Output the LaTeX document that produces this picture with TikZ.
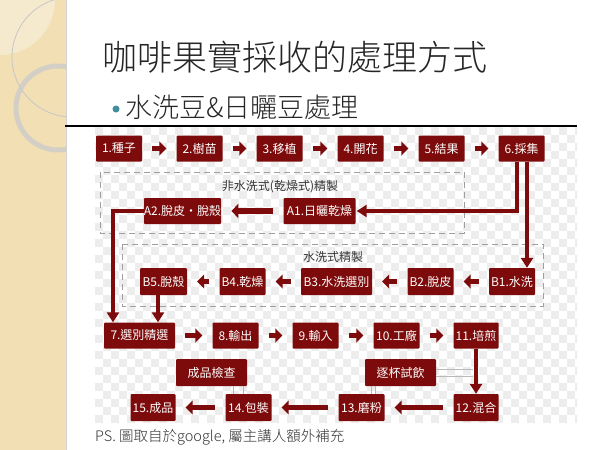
\documentclass[tikz,border=0pt]{standalone}
\usepackage{fontspec}
\setmainfont{Noto Sans CJK TC}
\newfontfamily\cjklight{Noto Sans CJK TC Light}
\usetikzlibrary{arrows.meta,calc}
\definecolor{boxred}{HTML}{7D0B0B}
\definecolor{stripbg}{HTML}{F2DFB4}
\definecolor{bulletc}{HTML}{3E8E9E}
\definecolor{titlec}{HTML}{262626}
\tikzset{
  box/.style={fill=boxred, text=white, inner sep=0pt, minimum height=26pt,
    font=\fontsize{12}{14}\selectfont, rounded corners=1pt},
  blk/.style={boxred, line width=5.5pt, -{Triangle[length=7pt,width=14pt]},
    shorten <=10pt, shorten >=10pt},
  conn/.style={boxred, line width=4pt, -{Triangle[length=10pt,width=12pt]}},
  dashbox/.style={draw=gray!75, line width=1pt, dash pattern=on 6pt off 4pt},
  thin/.style={draw=gray!55, line width=0.6pt},
  lbl/.style={text=black!80, font=\fontsize{12}{14}\selectfont, inner sep=0pt}
}
\begin{document}
\begin{tikzpicture}[x=1pt,y=-1pt]
\useasboundingbox (0,0) rectangle (600,450);
\fill[white] (0,0) rectangle (600,450);
% left decorative strip
\begin{scope}
  \clip (0,0) rectangle (66,450);
  \fill[stripbg] (0,0) rectangle (66,450);
  \fill[white, opacity=0.35] (0,0) circle (55);
  \draw[gray!45, line width=0.8pt] (72,57) circle (60);
  \draw[gray!40, opacity=0.8, line width=5pt] (58,108) circle (42);
\end{scope}
\draw[gray!35, line width=0.6pt] (66,0) -- (66,450);
% title
\node[anchor=west, text=titlec, inner sep=0pt, font=\cjklight\fontsize{35}{40}\selectfont] (title) at (102,57) {咖啡果實採收的處理方式};
\fill[bulletc] (116,109) circle (3.5);
\node[anchor=west, text=titlec, inner sep=0pt, font=\cjklight\fontsize{27}{32}\selectfont] (sub) at (125,107) {水洗豆\&日曬豆處理};
% checker background
\begin{scope}
  \clip (95,127) rectangle (577,422);
  \foreach \x in {95,111,...,575} {
    \foreach \y in {127,143,...,420} {
      \fill[black!7] (\x,\y) rectangle ++(8,8);
      \fill[black!7] (\x+8,\y+8) rectangle ++(8,8);
    }
  }
\end{scope}
\draw[black, line width=1.2pt] (65,126) -- (577,126);
% dashed groups
\draw[dashbox] (100,172) rectangle (464,233);
\draw[dashbox] (122,244) rectangle (543,306);
\node[lbl] (lA) at (280,187) {非水洗式(乾燥式)精製};
\node[lbl] (lB) at (333,257) {水洗式精製};
% row 1
\node[box, minimum width=46pt] (b1) at (119,148.5) {1.種子};
\node[box, minimum width=46pt] (b2) at (199.5,148.5) {2.樹苗};
\node[box, minimum width=46pt] (b3) at (279.5,148.5) {3.移植};
\node[box, minimum width=46pt] (b4) at (360.5,148.5) {4.開花};
\node[box, minimum width=46pt] (b5) at (441.5,148.5) {5.結果};
\node[box, minimum width=46pt] (b6) at (521.5,148.5) {6.採集};
% A row
\node[box, minimum width=72pt] (A1) at (319.5,211) {A1.日曬乾燥};
\node[box, minimum width=76pt] (A2) at (182.5,211) {A2.脫皮・脫殼};
% B row
\node[box, minimum width=47pt, minimum height=27pt] (B5) at (163.5,281.5) {B5.脫殼};
\node[box, minimum width=46pt, minimum height=27pt] (B4) at (242.5,281.5) {B4.乾燥};
\node[box, minimum width=71pt, minimum height=27pt] (B3) at (336.5,281.5) {B3.水洗選別};
\node[box, minimum width=46pt, minimum height=27pt] (B2) at (430.5,281.5) {B2.脫皮};
\node[box, minimum width=46pt, minimum height=27pt] (B1) at (512,281.5) {B1.水洗};
% row 3
\node[box, minimum width=71pt] (n7) at (139.5,335.5) {7.選別精選};
\node[box, minimum width=46pt] (n8) at (235.5,335.5) {8.輸出};
\node[box, minimum width=46pt] (n9) at (315.5,335.5) {9.輸入};
\node[box, minimum width=46pt] (n10) at (396.5,335.5) {10.工廠};
\node[box, minimum width=45pt] (n11) at (476,335.5) {11.培煎};
% helper boxes
\node[box, minimum width=71pt, minimum height=27pt] (chk) at (211.5,372.5) {成品檢查};
\node[box, minimum width=71pt, minimum height=27pt] (taste) at (400.5,372.5) {逐杯試飲};
% row 5
\node[box, minimum width=45pt, minimum height=27pt] (n15) at (153,407.5) {15.成品};
\node[box, minimum width=46pt, minimum height=27pt] (n14) at (248.5,407.5) {14.包裝};
\node[box, minimum width=46pt, minimum height=27pt] (n13) at (361.5,407.5) {13.磨粉};
\node[box, minimum width=45pt, minimum height=27pt] (n12) at (476,407.5) {12.混合};
% block arrows
\draw[blk] (b1) -- (b2);
\draw[blk] (b2) -- (b3);
\draw[blk] (b3) -- (b4);
\draw[blk] (b4) -- (b5);
\draw[blk] (b5) -- (b6);
\draw[blk] (A1) -- (A2);
\draw[blk] (B1) -- (B2);
\draw[blk] (B2) -- (B3);
\draw[blk] (B3) -- (B4);
\draw[blk] (B4) -- (B5);
\draw[blk] (n7) -- (n8);
\draw[blk] (n8) -- (n9);
\draw[blk] (n9) -- (n10);
\draw[blk] (n10) -- (n11);
\draw[blk] (n12) -- (n13);
\draw[blk] (n13) -- (n14);
\draw[blk] (n14) -- (n15);
% connectors
\draw[conn, shorten >=1pt] ([xshift=-4.5pt]b6.south) |- (A1.east);
\draw[conn] ([xshift=5.5pt]b6.south) -- ([xshift=5.5pt]b6.south |- B1.north);
\draw[conn] (A2.west) -| ([xshift=-26.5pt]n7.north);
\draw[conn] ([xshift=-5.5pt]B5.south) -- ([xshift=-5.5pt]B5.south |- n7.north);
\draw[conn] (n11) -- (n12);
% thin helper lines
\draw[thin] ([xshift=21.5pt]chk.south) -- ([xshift=21.5pt]chk.south |- n14.north);
\draw[thin] ([xshift=31.5pt]chk.south) -- ([xshift=31.5pt]chk.south |- n14.north);
\draw[thin] ([xshift=-29.5pt]taste.south) -- ([xshift=-29.5pt]taste.south |- n13.north);
\draw[thin] ([xshift=-25.5pt]taste.south) -- ([xshift=-25.5pt]taste.south |- n13.north);
\draw[thin] ([yshift=-4pt]taste.east) -- ++(37,0);
\draw[thin] ([yshift=3pt]taste.east) -- ++(37,0);
% footnote
\node[anchor=west, text=black!80, inner sep=0pt, font=\cjklight\fontsize{14.5}{17}\selectfont] (ps) at (95,437) {PS. 圖取自於google, 屬主講人額外補充};
\end{tikzpicture}
\end{document}
